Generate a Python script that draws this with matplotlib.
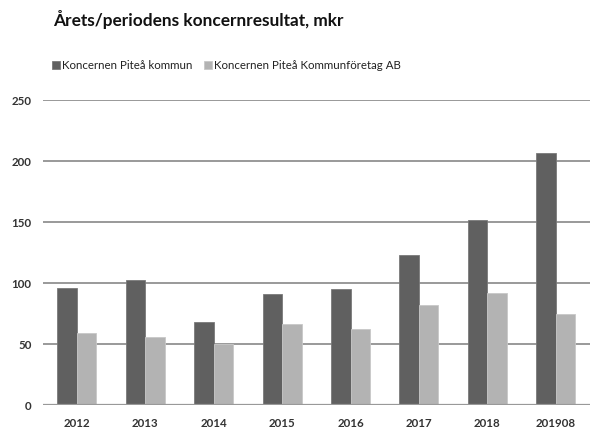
import matplotlib
matplotlib.use("Agg")
import matplotlib.pyplot as plt
import numpy as np

plt.rcParams['font.family'] = ['Lato', 'DejaVu Sans']

years = ["2012", "2013", "2014", "2015", "2016", "2017", "2018", "201908"]
pitea_kommun = [96, 103, 68.5, 91.5, 95, 123, 152, 207]
kommunforetag = [59.5, 56, 50.5, 67, 63, 82, 92, 75]
series_names = ["Koncernen Piteå kommun", "Koncernen Piteå Kommunföretag AB"]
yticks = [0, 50, 100, 150, 200, 250]

dark = "#606060"
light = "#b3b3b3"

fig = plt.figure(figsize=(5.9, 4.3), dpi=100)
ax = fig.add_axes([0.0724, 0.057, 0.9276, 0.71])

x = np.arange(len(years))
w = 0.285
ax.bar(x - w / 2, pitea_kommun, width=w, color=dark, edgecolor="#7a7a7a",
       linewidth=0.6, zorder=3, label=series_names[0])
ax.bar(x + w / 2, kommunforetag, width=w, color=light, edgecolor="#c8c8c8",
       linewidth=0.6, zorder=3, label=series_names[1])

ax.set_xlim(-0.5, len(years) - 0.5)
ax.set_ylim(0, 250)
ax.set_yticks(yticks)
ax.set_yticklabels([str(t) for t in yticks], fontsize=8.3, fontweight="bold",
                   color="#333333")
ax.set_xticks(x)
ax.set_xticklabels(years, fontsize=8.3, fontweight="bold", color="#333333")
ax.tick_params(axis="both", length=0)
ax.tick_params(axis="y", pad=8)
ax.tick_params(axis="x", pad=9)

ax.grid(axis="y", color="#999999", linewidth=1.4, zorder=0)
for s in ax.spines.values():
    s.set_visible(False)
ax.axhline(0, color="#999999", linewidth=1.6, zorder=4)

fig.text(0.09, 0.955, "Årets/periodens koncernresultat, mkr", fontsize=12.4,
         fontweight="bold", color="#111111", va="center", ha="left")

leg = fig.legend(loc="center left", bbox_to_anchor=(0.07, 0.848), ncol=2,
                 frameon=False, fontsize=8.3, handlelength=0.7, handleheight=0.7,
                 handletextpad=0.2, columnspacing=1.0)
for t in leg.get_texts():
    t.set_color("#222222")

fig.savefig("out.png", dpi=100, facecolor="white")
